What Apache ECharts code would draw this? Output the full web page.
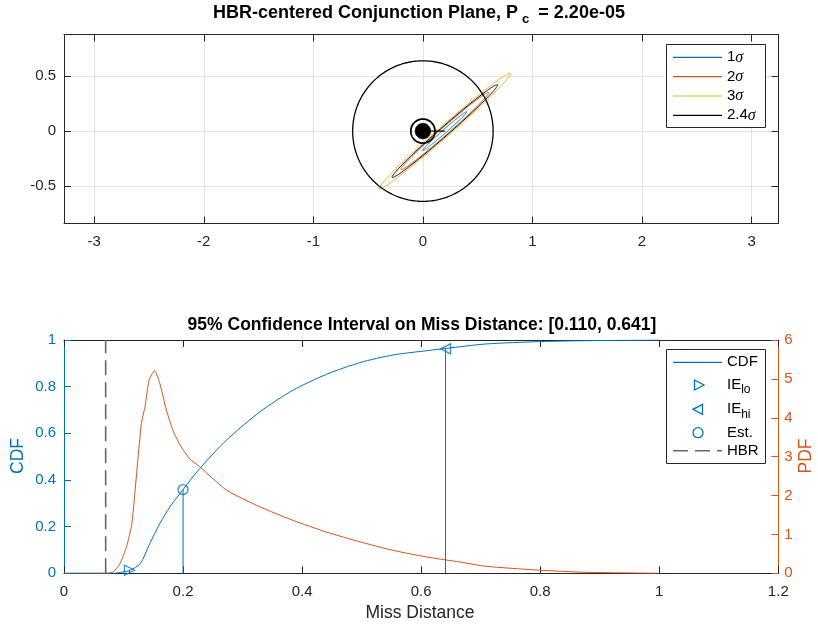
<!DOCTYPE html>
<html><head><meta charset="utf-8">
<script src="https://cdn.jsdelivr.net/npm/echarts@6/dist/echarts.min.js"></script>
<style>html,body{margin:0;padding:0;background:#fff}#c{width:818px;height:627px}</style>
</head><body><div id="c"></div>
<script>
// ---------- data ----------
const sigmaLabels = ['1', '2', '3', '2.4'];
const ellipseColors = ['#0072BD', '#D95319', '#EDB120', '#000000'];
const ellipseSemiMajor = [0.267, 0.533, 0.80, 0.64];
const ellipseSemiMinor = [0.017, 0.034, 0.051, 0.041];
const ellipseAngleDeg = 41.3;
const ellipseCenter = [0.2, 0];
const ciCircleRadii = [0.110, 0.641];
const hbrRadius = 0.07;
const topXTicks = [-3, -2, -1, 0, 1, 2, 3];
const topYTicks = [-0.5, 0, 0.5];

const cdfX = [0, 0.070, 0.083, 0.095, 0.111, 0.128, 0.144, 0.161, 0.178, 0.200, 0.228, 0.273, 0.329, 0.385, 0.441, 0.497, 0.553, 0.609, 0.642, 0.709, 0.799, 0.877, 1.0];
const cdfY = [0, 0, 0, 0.004, 0.013, 0.041, 0.127, 0.213, 0.285, 0.359, 0.449, 0.571, 0.692, 0.785, 0.853, 0.903, 0.936, 0.954, 0.964, 0.983, 0.993, 0.997, 1.0];
const pdfX = [0, 0.072, 0.083, 0.094, 0.105, 0.114, 0.122, 0.130, 0.136, 0.143, 0.152, 0.161, 0.172, 0.183, 0.195, 0.211, 0.228, 0.273, 0.329, 0.385, 0.441, 0.497, 0.553, 0.609, 0.665, 0.709, 0.799, 0.877, 1.0];
const pdfY = [0, 0, 0.04, 0.25, 0.68, 1.28, 2.57, 3.85, 4.28, 4.97, 5.21, 4.88, 4.20, 3.68, 3.30, 2.95, 2.74, 2.14, 1.71, 1.36, 1.06, 0.81, 0.59, 0.42, 0.29, 0.18, 0.08, 0.025, 0];
const ieLo = [0.110, 0.013];
const ieHi = [0.641, 0.962];
const estPoint = [0.200, 0.359];
const hbrLine = [0.07, 0, 1];

// ---------- styling ----------
const FONT = 'Liberation Sans';
const AX = '#262626';
const BLUE = '#0072BD', ORANGE = '#D95319';
const TICK_FS = 15;

const chart = echarts.init(document.getElementById('c'));

function ptsEllipse(api, cx, cy, a, b, angDeg) {
  const t = angDeg * Math.PI / 180, pts = [];
  for (let k = 0; k <= 240; k++) {
    const u = 2 * Math.PI * k / 240;
    const ex = a * Math.cos(u), ey = b * Math.sin(u);
    pts.push(api.coord([cx + ex * Math.cos(t) - ey * Math.sin(t), cy + ex * Math.sin(t) + ey * Math.cos(t)]));
  }
  return pts;
}

const series = [];
// ellipses
sigmaLabels.forEach((s, i) => {
  series.push({
    type: 'custom', xAxisIndex: 0, yAxisIndex: 0, clip: true, z: 3,
    data: [[ellipseCenter[0], ellipseCenter[1], ellipseSemiMajor[i], ellipseSemiMinor[i], ellipseAngleDeg]],
    renderItem: (p, api) => ({
      type: 'polyline',
      shape: { points: ptsEllipse(api, api.value(0), api.value(1), api.value(2), api.value(3), api.value(4)) },
      style: { stroke: ellipseColors[i], fill: 'none', lineWidth: 1 }
    })
  });
});
// CI circles
series.push({
  type: 'custom', xAxisIndex: 0, yAxisIndex: 0, z: 4,
  data: ciCircleRadii.map(r => [0, 0, r]),
  renderItem: (p, api) => ({
    type: 'polyline',
    shape: { points: ptsEllipse(api, api.value(0), api.value(1), api.value(2), api.value(2), 0) },
    style: { stroke: '#000', fill: 'none', lineWidth: p.dataIndex === 0 ? 1.8 : 1.3 }
  })
});
// HBR disk
series.push({
  type: 'custom', xAxisIndex: 0, yAxisIndex: 0, z: 5,
  data: [[0, 0, hbrRadius]],
  renderItem: (p, api) => ({
    type: 'polygon',
    shape: { points: ptsEllipse(api, api.value(0), api.value(1), api.value(2), api.value(2), 0) },
    style: { fill: '#000', stroke: '#000', lineWidth: 1 }
  })
});
// miss vector
series.push({
  type: 'line', xAxisIndex: 0, yAxisIndex: 0, z: 5, symbol: 'none',
  data: [[0, 0], ellipseCenter],
  lineStyle: { color: '#000', width: 1.2 }
});

// bottom: PDF
series.push({
  type: 'line', xAxisIndex: 2, yAxisIndex: 3, symbol: 'none', z: 3, smooth: 0.2,
  data: pdfX.map((x, i) => [x, pdfY[i]]),
  lineStyle: { color: ORANGE, width: 1 }
});
// CDF
series.push({
  type: 'line', xAxisIndex: 2, yAxisIndex: 2, symbol: 'none', z: 4, smooth: 0.25,
  data: cdfX.map((x, i) => [x, cdfY[i]]),
  lineStyle: { color: BLUE, width: 1 }
});
// stems
series.push({
  type: 'custom', xAxisIndex: 2, yAxisIndex: 2, z: 4,
  data: [ieLo, ieHi, estPoint],
  renderItem: (p, api) => {
    const a = api.coord([api.value(0), 0]), b = api.coord([api.value(0), api.value(1)]);
    return { type: 'line', shape: { x1: a[0], y1: a[1], x2: b[0], y2: b[1] }, style: { stroke: BLUE, lineWidth: 1 } };
  }
});
// HBR dashed
series.push({
  type: 'line', xAxisIndex: 2, yAxisIndex: 2, symbol: 'none', z: 4,
  data: [[hbrLine[0], hbrLine[1]], [hbrLine[0], hbrLine[2]]],
  lineStyle: { color: '#666666', width: 1.6, type: [15, 7] }
});
// markers
const mStyle = { color: 'none', borderColor: BLUE, borderWidth: 1.3 };
series.push({ type: 'scatter', xAxisIndex: 2, yAxisIndex: 2, z: 6, symbol: 'triangle', symbolRotate: -90, symbolSize: 10, data: [ieLo], itemStyle: mStyle });
series.push({ type: 'scatter', xAxisIndex: 2, yAxisIndex: 2, z: 6, symbol: 'triangle', symbolRotate: 90, symbolSize: 10, data: [ieHi], itemStyle: mStyle });
series.push({ type: 'scatter', xAxisIndex: 2, yAxisIndex: 2, z: 6, symbol: 'circle', symbolSize: 10, data: [estPoint], itemStyle: mStyle });

const lbl = (c, extra) => Object.assign({ color: c, fontSize: TICK_FS, fontFamily: FONT }, extra || {});

const option = {
  animation: false,
  backgroundColor: '#fff',
  grid: [
    { left: 64, top: 34.5, width: 714.5, height: 189, containLabel: false },
    { left: 64, top: 340, width: 714.3, height: 233.3, containLabel: false }
  ],
  xAxis: [
    { gridIndex: 0, type: 'value', position: 'bottom', min: -3.276, max: 3.246,
      axisLine: { onZero: false, lineStyle: { color: AX } },
      axisTick: { inside: true, length: 7, customValues: topXTicks, lineStyle: { color: AX } },
      axisLabel: lbl(AX, { customValues: topXTicks, margin: 11 }),
      splitLine: { show: true, lineStyle: { color: '#e3e3e3' } } },
    { gridIndex: 0, type: 'value', position: 'top', min: -3.276, max: 3.246,
      axisLine: { onZero: false, lineStyle: { color: AX } },
      axisTick: { inside: true, length: 7, customValues: topXTicks, lineStyle: { color: AX } },
      axisLabel: { show: false }, splitLine: { show: false } },
    { gridIndex: 1, type: 'value', position: 'bottom', min: 0, max: 1.2, interval: 0.2,
      axisLine: { onZero: false, lineStyle: { color: AX } },
      axisTick: { inside: true, length: 7, lineStyle: { color: AX } },
      axisLabel: lbl(AX, { margin: 11 }),
      splitLine: { show: false } },
    { gridIndex: 1, type: 'value', position: 'top', min: 0, max: 1.2, interval: 0.2,
      axisLine: { onZero: false, lineStyle: { color: AX } },
      axisTick: { inside: true, length: 7, lineStyle: { color: AX } },
      axisLabel: { show: false }, splitLine: { show: false } }
  ],
  yAxis: [
    { gridIndex: 0, type: 'value', position: 'left', min: -0.843, max: 0.881,
      axisLine: { onZero: false, lineStyle: { color: AX } },
      axisTick: { inside: true, length: 7, customValues: topYTicks, lineStyle: { color: AX } },
      axisLabel: lbl(AX, { customValues: topYTicks, margin: 8 }),
      splitLine: { show: true, lineStyle: { color: '#e3e3e3' } } },
    { gridIndex: 0, type: 'value', position: 'right', min: -0.843, max: 0.881,
      axisLine: { onZero: false, lineStyle: { color: AX } },
      axisTick: { inside: true, length: 7, customValues: topYTicks, lineStyle: { color: AX } },
      axisLabel: { show: false }, splitLine: { show: false } },
    { gridIndex: 1, type: 'value', position: 'left', min: 0, max: 1, interval: 0.2,
      axisLine: { onZero: false, lineStyle: { color: BLUE } },
      axisTick: { inside: true, length: 7, lineStyle: { color: BLUE } },
      axisLabel: lbl(BLUE, { margin: 8 }),
      splitLine: { show: false } },
    { gridIndex: 1, type: 'value', position: 'right', min: 0, max: 6, interval: 1,
      axisLine: { onZero: false, lineStyle: { color: ORANGE } },
      axisTick: { inside: true, length: 7, lineStyle: { color: ORANGE } },
      axisLabel: lbl(ORANGE, { margin: 6 }),
      splitLine: { show: false } }
  ],
  series: series,
  graphic: []
};

const G = option.graphic;
const titleRich = {
  b: { fontSize: 18, fontWeight: 'bold', fontFamily: FONT, color: '#000' },
  sub: { fontSize: 13, fontWeight: 'bold', fontFamily: FONT, color: '#000', padding: [12, 4, 0, 4] }
};
G.push({ type: 'text', x: 419, y: 13, z: 100, style: {
  text: '{b|HBR-centered Conjunction Plane, P}{sub|c}{b| = 2.20e-05}', rich: titleRich,
  align: 'center', verticalAlign: 'middle' } });
G.push({ type: 'text', x: 422, y: 325, z: 100, style: {
  text: '95% Confidence Interval on Miss Distance: [0.110, 0.641]', fontSize: 17.5, fontWeight: 'bold',
  fontFamily: FONT, fill: '#000', align: 'center', verticalAlign: 'middle' } });
G.push({ type: 'text', x: 420, y: 613, z: 100, style: {
  text: 'Miss Distance', fontSize: 17.5, fontFamily: FONT, fill: AX, align: 'center', verticalAlign: 'middle' } });
G.push({ type: 'text', x: 18, y: 456, rotation: Math.PI / 2, z: 100, style: {
  text: 'CDF', fontSize: 17.5, fontFamily: FONT, fill: BLUE, align: 'center', verticalAlign: 'middle' } });
G.push({ type: 'text', x: 806, y: 456, rotation: Math.PI / 2, z: 100, style: {
  text: 'PDF', fontSize: 17.5, fontFamily: FONT, fill: ORANGE, align: 'center', verticalAlign: 'middle' } });

// top legend
G.push({ type: 'rect', z: 100, shape: { x: 666.5, y: 44.5, width: 99, height: 83 }, style: { fill: '#fff', stroke: AX, lineWidth: 1 } });
const legY = [57.3, 76.7, 96, 115.3];
sigmaLabels.forEach((s, i) => {
  G.push({ type: 'line', z: 101, shape: { x1: 673, y1: legY[i], x2: 722, y2: legY[i] }, style: { stroke: ellipseColors[i], lineWidth: 1.2 } });
  G.push({ type: 'text', z: 101, x: 727, y: legY[i], style: {
    text: '{n|' + s + '}{s|σ}', verticalAlign: 'middle', align: 'left',
    rich: { n: { fontSize: 15, fontFamily: FONT, color: AX }, s: { fontSize: 16, fontFamily: 'Liberation Serif', fontStyle: 'italic', color: AX } } } });
});

// bottom legend
G.push({ type: 'rect', z: 100, shape: { x: 666.5, y: 349.5, width: 99, height: 114 }, style: { fill: '#fff', stroke: AX, lineWidth: 1 } });
const leg2Y = [362.3, 385, 409.3, 432.7, 450.7];
G.push({ type: 'line', z: 101, shape: { x1: 673, y1: leg2Y[0], x2: 722, y2: leg2Y[0] }, style: { stroke: BLUE, lineWidth: 1.2 } });
G.push({ type: 'polygon', z: 101, shape: { points: [[694.5, leg2Y[1] - 5], [704, leg2Y[1]], [694.5, leg2Y[1] + 5]] }, style: { fill: 'none', stroke: BLUE, lineWidth: 1.3 } });
G.push({ type: 'polygon', z: 101, shape: { points: [[702.5, leg2Y[2] - 5], [693, leg2Y[2]], [702.5, leg2Y[2] + 5]] }, style: { fill: 'none', stroke: BLUE, lineWidth: 1.3 } });
G.push({ type: 'circle', z: 101, shape: { cx: 698, cy: leg2Y[3], r: 5 }, style: { fill: 'none', stroke: BLUE, lineWidth: 1.3 } });
G.push({ type: 'line', z: 101, shape: { x1: 673, y1: leg2Y[4], x2: 722, y2: leg2Y[4] }, style: { stroke: '#666', lineWidth: 1.6, lineDash: [15, 7] } });
const subRich = { n: { fontSize: 15, fontFamily: FONT, color: AX }, sub: { fontSize: 12, fontFamily: FONT, color: AX, padding: [10, 0, 0, 0] } };
const leg2Text = ['{n|CDF}', '{n|IE}{sub|lo}', '{n|IE}{sub|hi}', '{n|Est.}', '{n|HBR}'];
leg2Text.forEach((t, i) => {
  G.push({ type: 'text', z: 101, x: 727, y: leg2Y[i], style: { text: t, rich: subRich, align: 'left', verticalAlign: 'middle' } });
});

chart.setOption(option);
</script></body></html>
